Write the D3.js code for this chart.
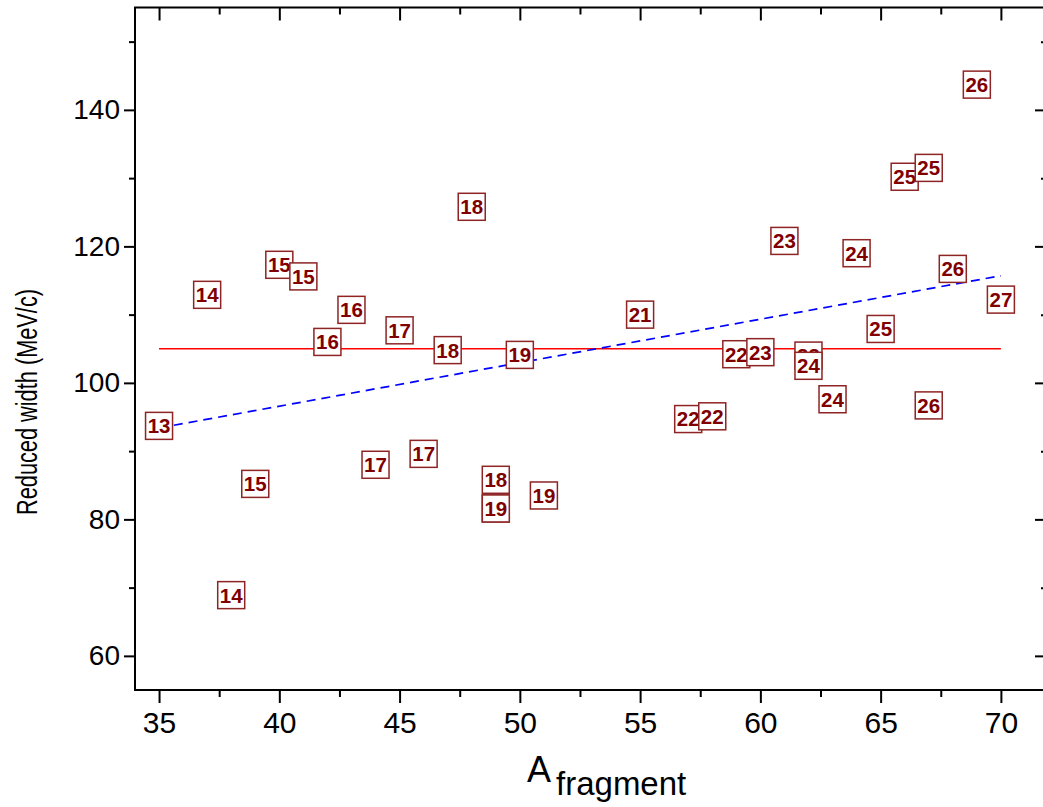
<!DOCTYPE html>
<html>
<head>
<meta charset="utf-8">
<script src="https://cdn.jsdelivr.net/npm/d3@7"></script>
<style>
  body { margin: 0; background: #fff; }
  svg { font-family: "Liberation Sans", Arial, sans-serif; }
</style>
</head>
<body>
<div id="chart"></div>
<script>
// Fragment mass number, reduced width and charge label for each point
const massNumbers = [35, 37, 38, 39, 40, 41, 42, 43, 44, 45, 46, 47, 48, 49,
  49, 49, 50, 51, 55, 57, 58, 59, 60, 61, 62, 62, 63, 64, 65, 66, 67, 67, 68, 69, 70];
const reducedWidths = [93.7, 112.9, 68.9, 85.2, 117.3, 115.6, 106.0, 110.7, 88.0, 107.7, 89.6, 104.8, 125.8, 81.6,
  85.8, 81.6, 104.1, 83.5, 110.0, 94.7, 95.1, 104.2, 104.5, 120.8, 104.0, 102.5, 97.6, 119.0, 107.9, 130.2, 131.5, 96.7, 116.7, 143.7, 112.2];
const chargeLabels = ["13", "14", "14", "15", "15", "15", "16", "16", "17", "17", "17", "18", "18", "19",
  "18", "19", "19", "19", "21", "22", "22", "22", "23", "23", "23", "24", "24", "24", "25", "25", "25", "26", "26", "26", "27"];

// Mean value line and linear fit line
const meanWidth = 105.0;
const meanRange = [35, 70];
const fitA = [35, 70];
const fitWidth = [93.4, 115.7];

const xTicks = [35, 40, 45, 50, 55, 60, 65, 70];
const yTicks = [60, 80, 100, 120, 140];

const width = 1043, height = 807;
const margin = { top: 7.5, right: -6, bottom: 117, left: 135 };

const svg = d3.select("#chart").append("svg")
  .attr("width", width)
  .attr("height", height);

const x = d3.scaleLinear().domain([34, 72]).range([margin.left, width - margin.right]);
const y = d3.scaleLinear().domain([55, 155]).range([height - margin.bottom, margin.top]);

const minorX = d3.range(37.5, 72, 5);
const minorY = d3.range(70, 155, 20);

// frame
svg.append("rect")
  .attr("x", x(34)).attr("y", y(155))
  .attr("width", x(72) - x(34)).attr("height", y(55) - y(155))
  .attr("fill", "none").attr("stroke", "#000").attr("stroke-width", 2);

function styleAxis(g) {
  g.select(".domain").remove();
  g.selectAll(".tick line").attr("stroke", "#000").attr("stroke-width", 2);
}

// bottom axis
svg.append("g")
  .attr("transform", `translate(0,${y(55)})`)
  .call(d3.axisBottom(x).tickValues(xTicks).tickSize(13).tickPadding(9).tickFormat(d3.format("d")))
  .call(styleAxis)
  .call(g => g.selectAll("text").attr("font-size", 30).attr("fill", "#000").attr("font-family", "Liberation Sans"));
svg.append("g")
  .attr("transform", `translate(0,${y(55)})`)
  .call(d3.axisBottom(x).tickValues(minorX).tickSize(7).tickFormat(""))
  .call(styleAxis);

// top axis, ticks inward
svg.append("g")
  .attr("transform", `translate(0,${y(155)})`)
  .call(d3.axisBottom(x).tickValues(xTicks).tickSize(13).tickFormat(""))
  .call(styleAxis);
svg.append("g")
  .attr("transform", `translate(0,${y(155)})`)
  .call(d3.axisBottom(x).tickValues(minorX).tickSize(7).tickFormat(""))
  .call(styleAxis);

// left axis
svg.append("g")
  .attr("transform", `translate(${x(34)},0)`)
  .call(d3.axisLeft(y).tickValues(yTicks).tickSize(11).tickPadding(4).tickFormat(d3.format("d")))
  .call(styleAxis)
  .call(g => g.selectAll("text").attr("font-size", 28).attr("fill", "#000").attr("font-family", "Liberation Sans"));
svg.append("g")
  .attr("transform", `translate(${x(34)},0)`)
  .call(d3.axisLeft(y).tickValues(minorY).tickSize(6).tickFormat(""))
  .call(styleAxis);

// right axis, ticks inward
svg.append("g")
  .attr("transform", `translate(${x(72)},0)`)
  .call(d3.axisLeft(y).tickValues(yTicks).tickSize(14).tickFormat(""))
  .call(styleAxis);
svg.append("g")
  .attr("transform", `translate(${x(72)},0)`)
  .call(d3.axisLeft(y).tickValues(minorY).tickSize(8).tickFormat(""))
  .call(styleAxis);

// axis titles
svg.append("text")
  .attr("transform", "translate(37,402) rotate(-90)")
  .attr("text-anchor", "middle")
  .attr("font-size", 29)
  .attr("textLength", 226)
  .attr("lengthAdjust", "spacingAndGlyphs")
  .text("Reduced width (MeV/c)");

const xTitle = svg.append("text")
  .attr("x", 527).attr("y", 782)
  .attr("font-size", 36);
xTitle.append("tspan").text("A");
xTitle.append("tspan").attr("dx", 5).attr("dy", 13).attr("font-size", 33).text("fragment");

// mean line
svg.append("line")
  .attr("x1", x(meanRange[0])).attr("x2", x(meanRange[1]))
  .attr("y1", y(meanWidth)).attr("y2", y(meanWidth))
  .attr("stroke", "#ff0000").attr("stroke-width", 1.5);

// linear fit
svg.append("line")
  .attr("x1", x(fitA[0])).attr("x2", x(fitA[1]))
  .attr("y1", y(fitWidth[0])).attr("y2", y(fitWidth[1]))
  .attr("stroke", "#0000ff").attr("stroke-width", 1.7)
  .attr("stroke-dasharray", "9,6");

// labelled points
const points = massNumbers.map((a, i) => ({ a: a, w: reducedWidths[i], z: chargeLabels[i] }));
const box = 27;

const pt = svg.append("g").selectAll("g")
  .data(points)
  .enter().append("g")
  .attr("transform", d => `translate(${x(d.a)},${y(d.w)})`);

pt.append("rect")
  .attr("x", -box / 2).attr("y", -box / 2)
  .attr("width", box).attr("height", box)
  .attr("fill", "#fff")
  .attr("stroke", "#8e2424").attr("stroke-width", 1.5);

pt.append("text")
  .attr("text-anchor", "middle")
  .attr("dy", "0.36em")
  .attr("font-size", 20.5)
  .attr("font-weight", "bold")
  .attr("fill", "#800000")
  .text(d => d.z);
</script>
</body>
</html>
